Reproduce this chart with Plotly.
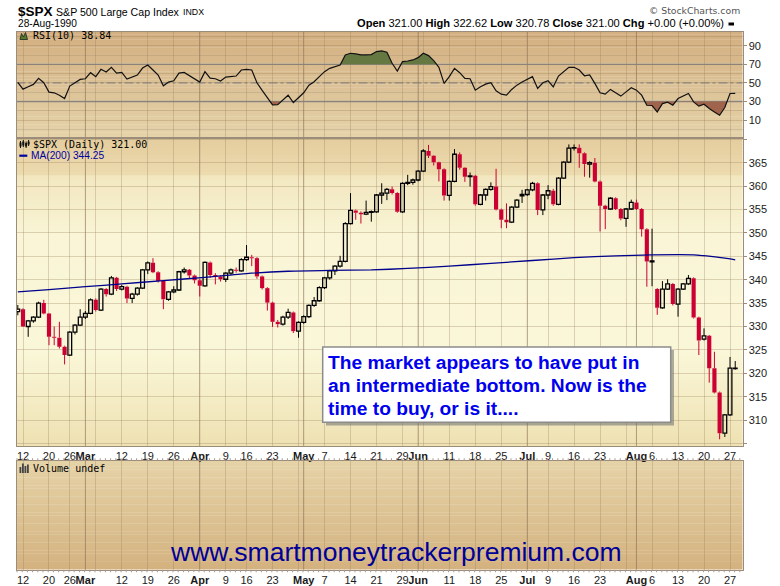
import plotly.graph_objects as go

# ---------------- data ----------------
dates = [
    "Feb 9", "Feb 12", "Feb 13", "Feb 14", "Feb 15", "Feb 16", "Feb 20", "Feb 21", "Feb 22", "Feb 23",
    "Feb 26", "Feb 27", "Feb 28", "Mar 1", "Mar 2", "Mar 5", "Mar 6", "Mar 7", "Mar 8", "Mar 9",
    "Mar 12", "Mar 13", "Mar 14", "Mar 15", "Mar 16", "Mar 19", "Mar 20", "Mar 21", "Mar 22", "Mar 23",
    "Mar 26", "Mar 27", "Mar 28", "Mar 29", "Mar 30", "Apr 2", "Apr 3", "Apr 4", "Apr 5", "Apr 6",
    "Apr 9", "Apr 10", "Apr 11", "Apr 12", "Apr 16", "Apr 17", "Apr 18", "Apr 19", "Apr 20",
    "Apr 23", "Apr 24", "Apr 25", "Apr 26", "Apr 27", "Apr 30", "May 1", "May 2", "May 3", "May 4",
    "May 7", "May 8", "May 9", "May 10", "May 11", "May 14", "May 15", "May 16", "May 17", "May 18",
    "May 21", "May 22", "May 23", "May 24", "May 25", "May 29", "May 30", "May 31", "Jun 1",
    "Jun 4", "Jun 5", "Jun 6", "Jun 7", "Jun 8", "Jun 11", "Jun 12", "Jun 13", "Jun 14", "Jun 15",
    "Jun 18", "Jun 19", "Jun 20", "Jun 21", "Jun 22", "Jun 25", "Jun 26", "Jun 27", "Jun 28", "Jun 29",
    "Jul 2", "Jul 3", "Jul 5", "Jul 6", "Jul 9", "Jul 10", "Jul 11", "Jul 12", "Jul 13",
    "Jul 16", "Jul 17", "Jul 18", "Jul 19", "Jul 20", "Jul 23", "Jul 24", "Jul 25", "Jul 26", "Jul 27",
    "Jul 30", "Jul 31", "Aug 1", "Aug 2", "Aug 3", "Aug 6", "Aug 7", "Aug 8", "Aug 9", "Aug 10",
    "Aug 13", "Aug 14", "Aug 15", "Aug 16", "Aug 17", "Aug 20", "Aug 21", "Aug 22", "Aug 23", "Aug 24",
    "Aug 27", "Aug 28",
]

opens = [
    333.2, 333.7, 330.0, 331.2, 332.0, 335.0, 332.8, 327.8, 327.6, 325.7,
    323.9, 328.8, 330.3, 332.0, 332.8, 335.7, 333.5, 338.0, 336.9, 340.4,
    338.0, 338.5, 336.0, 336.9, 338.2, 342.1, 343.6, 341.6, 339.7, 335.8,
    337.4, 337.8, 341.7, 342.1, 340.9, 339.9, 338.7, 343.7, 341.0, 340.7,
    340.1, 341.4, 342.1, 341.9, 344.3, 344.8, 344.6, 340.7, 338.2,
    335.1, 331.0, 330.5, 332.0, 333.0, 329.0, 330.9, 332.1, 334.5, 335.5,
    338.3, 340.4, 341.9, 342.9, 343.9, 352.0, 354.8, 354.3, 354.0, 354.4,
    354.5, 358.1, 358.5, 359.3, 358.5, 354.5, 360.6, 360.8, 361.3,
    363.2, 367.5, 366.5, 365.1, 363.6, 358.0, 361.0, 366.8, 363.9, 362.0,
    362.2, 356.1, 358.1, 359.3, 359.9, 355.0, 352.8, 352.3, 355.5, 357.9,
    358.2, 359.2, 360.6, 354.9, 358.1, 359.0, 356.1, 361.7, 365.1,
    368.1, 368.2, 367.0, 364.7, 365.0, 361.0, 355.8, 355.1, 357.4, 355.1,
    353.1, 355.1, 356.5, 355.1, 350.8, 343.8, 338.0, 334.0, 338.0, 339.1,
    334.8, 338.0, 339.1, 340.3, 331.9, 327.3, 328.0, 321.1, 315.9, 307.2,
    311.1, 321.0,
]
highs = [
    334.6, 333.9, 331.4, 332.2, 335.3, 335.7, 332.9, 330.0, 331.0, 325.9,
    329.0, 330.5, 333.7, 333.3, 336.0, 336.0, 338.2, 338.2, 340.8, 340.6,
    338.9, 338.7, 337.2, 338.4, 342.3, 343.9, 344.6, 341.8, 339.9, 337.6,
    338.6, 341.9, 342.6, 342.3, 341.1, 340.1, 343.9, 343.9, 341.4, 340.9,
    341.6, 342.4, 342.6, 344.6, 347.4, 345.3, 344.8, 340.9, 338.4,
    335.3, 331.4, 332.3, 333.8, 333.2, 331.1, 332.4, 334.7, 336.3, 338.6,
    340.6, 342.1, 343.1, 345.1, 352.3, 358.5, 355.0, 354.6, 356.9, 354.8,
    358.3, 360.6, 359.6, 359.9, 358.7, 360.8, 362.4, 361.6, 363.4,
    367.9, 368.8, 366.6, 365.2, 363.8, 361.2, 367.9, 367.2, 364.0, 362.9,
    362.4, 358.3, 359.5, 360.8, 363.7, 355.2, 356.3, 355.7, 357.2, 359.2,
    359.4, 360.9, 360.8, 358.3, 360.2, 359.4, 361.9, 365.3, 368.9,
    368.9, 368.9, 367.2, 365.3, 366.0, 361.2, 356.0, 357.6, 357.6, 355.3,
    355.3, 357.1, 357.1, 355.3, 351.0, 350.9, 338.2, 339.7, 340.1, 339.3,
    338.2, 339.3, 341.0, 340.5, 332.1, 329.6, 328.2, 324.6, 316.1, 311.3,
    323.5, 322.62,
]
lows = [
    332.4, 329.9, 327.8, 330.8, 331.8, 332.6, 326.0, 326.0, 325.3, 321.9,
    323.7, 328.3, 330.1, 331.6, 332.6, 333.2, 333.3, 336.4, 336.7, 337.6,
    337.7, 335.0, 335.0, 336.6, 338.0, 341.2, 341.4, 339.4, 333.7, 335.5,
    337.1, 337.6, 341.3, 340.2, 339.2, 336.4, 338.5, 340.4, 339.0, 339.6,
    339.5, 341.0, 341.5, 341.7, 344.0, 342.9, 340.2, 337.9, 333.4,
    329.9, 329.8, 330.2, 331.6, 328.6, 327.6, 330.6, 331.8, 334.2, 335.3,
    338.0, 340.0, 341.0, 342.6, 343.7, 351.8, 352.8, 352.0, 353.8, 352.4,
    354.3, 356.2, 357.0, 358.2, 354.3, 354.3, 360.2, 360.3, 361.0,
    363.0, 366.0, 364.4, 361.0, 356.9, 356.9, 360.8, 363.5, 360.9, 359.9,
    355.8, 355.9, 356.9, 359.0, 354.8, 351.0, 351.0, 352.1, 355.3, 356.4,
    357.9, 358.9, 353.8, 353.8, 357.2, 355.8, 355.9, 361.5, 364.9,
    367.6, 363.9, 362.0, 361.8, 360.8, 350.3, 350.8, 354.9, 354.9, 352.7,
    351.3, 354.9, 354.9, 349.2, 338.5, 338.6, 332.5, 333.8, 337.8, 334.5,
    332.1, 337.8, 338.9, 331.7, 323.9, 327.0, 318.0, 315.7, 305.9, 306.4,
    310.9, 320.78,
]
closes = [
    333.7, 330.0, 331.2, 332.0, 335.0, 332.8, 327.8, 327.6, 325.7, 323.9,
    328.8, 330.3, 332.0, 332.8, 335.7, 333.5, 338.0, 336.9, 340.4, 338.0,
    338.5, 336.0, 336.9, 338.2, 342.1, 343.6, 341.6, 339.7, 335.8, 337.4,
    337.8, 341.7, 342.1, 340.9, 339.9, 338.7, 343.7, 341.0, 340.7, 340.1,
    341.4, 342.1, 341.9, 344.3, 344.8, 344.6, 340.7, 338.2, 335.1,
    331.0, 330.5, 332.0, 333.0, 329.0, 330.9, 332.1, 334.5, 335.5, 338.3,
    340.4, 341.9, 342.9, 343.9, 352.0, 354.8, 354.3, 354.0, 354.4, 354.5,
    358.1, 358.5, 359.3, 358.5, 354.5, 360.6, 360.8, 361.3, 363.2,
    367.5, 366.5, 365.1, 363.6, 358.0, 361.0, 366.8, 363.9, 362.0, 362.2,
    356.1, 358.1, 359.3, 359.9, 355.0, 352.8, 352.3, 355.5, 357.0, 358.2,
    359.2, 360.6, 354.9, 358.1, 359.0, 356.1, 361.7, 365.1, 368.1,
    368.2, 367.0, 364.7, 365.0, 361.0, 355.8, 355.1, 357.4, 355.1, 353.1,
    355.1, 356.5, 355.1, 350.8, 343.9, 344.0, 334.0, 338.0, 339.1, 334.8,
    338.0, 339.1, 340.3, 331.9, 327.0, 328.0, 321.1, 315.9, 307.2, 311.1,
    321.1, 321.0,
]

rsi = [
    50.5, 43.3, 45.8, 48.4, 54.9, 50.2, 40.1, 39.4, 36.8, 33.2,
    46.6, 50.2, 53.8, 54.5, 61.0, 56.7, 64.6, 61.7, 66.8, 60.6,
    61.3, 54.1, 56.7, 58.5, 66.0, 69.3, 63.9, 58.5, 46.9, 50.9,
    52.3, 60.6, 61.3, 57.7, 54.9, 50.9, 62.1, 55.2, 54.5, 52.0,
    56.3, 57.0, 57.4, 63.9, 64.6, 63.9, 50.2, 42.0, 34.5, 26.5,
    26.7, 32.2, 36.8, 28.9, 34.3, 39.4, 47.6, 51.3, 56.7, 62.1,
    65.7, 67.8, 69.3, 80.1, 81.9, 81.2, 80.1, 80.1, 80.5, 83.7,
    84.4, 83.0, 71.1, 62.8, 72.9, 73.6, 74.7, 77.2, 81.9, 79.4,
    74.0, 66.8, 49.5, 56.7, 65.7, 61.0, 54.9, 54.5, 42.2, 45.8,
    48.7, 50.2, 41.5, 37.9, 36.8, 43.0, 47.6, 50.9, 53.8, 56.7,
    44.0, 50.2, 52.3, 45.8, 57.4, 62.1, 66.8, 66.8, 63.9, 57.7,
    58.5, 49.5, 39.4, 37.9, 43.0, 39.4, 35.8, 40.4, 44.8, 42.2,
    36.8, 26.0, 25.7, 18.8, 27.8, 29.3, 26.0, 33.2, 35.8, 38.6,
    29.6, 25.0, 27.1, 22.4, 18.8, 15.2, 23.5, 38.6, 38.84,
]

ma_dates = ["Feb 9", "Feb 20", "Mar 1", "Mar 12", "Mar 22", "Apr 3", "Apr 16", "Apr 26",
            "May 8", "May 18", "May 30", "Jun 11", "Jun 21", "Jul 3", "Jul 16", "Jul 26",
            "Aug 6", "Aug 16", "Aug 24", "Aug 28"]
ma_vals = [337.4, 337.9, 338.5, 339.1, 339.8, 340.5, 341.3, 341.8,
           342.0, 342.1, 342.4, 342.9, 343.5, 344.1, 344.7, 345.1,
           345.3, 345.3, 344.6, 344.25]

tick_dates = ["Feb 12", "Feb 20", "Feb 26", "Mar 1", "Mar 12", "Mar 19", "Mar 26", "Apr 2",
              "Apr 9", "Apr 16", "Apr 23", "May 1", "May 7", "May 14", "May 21", "May 29",
              "Jun 1", "Jun 11", "Jun 18", "Jun 25", "Jul 2", "Jul 9", "Jul 16", "Jul 23",
              "Aug 1", "Aug 6", "Aug 13", "Aug 20", "Aug 27"]
tick_labels = ["12", "20", "26", "<b>Mar</b>", "12", "19", "26", "<b>Apr</b>",
               "9", "16", "23", "<b>May</b>", "7", "14", "21", "29",
               "<b>Jun</b>", "11", "18", "25", "<b>Jul</b>", "9", "16", "23",
               "<b>Aug</b>", "6", "13", "20", "27"]
extra_grid_dates = ["Mar 5", "Apr 30", "Jun 4", "Jul 30"]
month_dates = ["Mar 1", "Apr 2", "May 1", "Jun 1", "Jul 2", "Aug 1"]

price_ticks = [305, 310, 315, 320, 325, 330, 335, 340, 345, 350, 355, 360, 365, 370]
price_labels = ["", "310", "315", "320", "325", "330", "335", "340", "345", "350",
                "355", "360", "365", ""]
rsi_ticks = [10, 30, 50, 70, 90]
rsi_minor = [0, 20, 40, 60, 80, 100]

# ---------------- geometry ----------------
W, H = 780, 586
X0, X1 = 16.5, 742.5
RSI_TOP, RSI_BOT = 31.5, 137.5
MAIN_TOP, MAIN_BOT = 137.5, 446.0
VOL_TOP, VOL_BOT = 461.0, 569.5
XR = [-0.25, 139.4]


def px(x):
    return x / W


def py(y):
    return 1 - y / H


xi = list(range(len(dates)))
pos = {d: k for k, d in enumerate(dates)}

RED = "#cc0033"
GRID = "rgba(150,122,88,0.30)"
MONTH = "rgba(125,100,75,0.45)"
BORDER = "#9c8c7c"
FONT = "Liberation Sans, Arial, sans-serif"
MONO = "DejaVu Sans Mono, monospace"

fig = go.Figure()


# ---------------- RSI panel ----------------
def clipped(vals, thr, above):
    xs, ys = [], []
    for k, v in enumerate(vals):
        if k > 0:
            p = vals[k - 1]
            if (p - thr) * (v - thr) < 0:
                t = (thr - p) / (v - p)
                xs.append(k - 1 + t)
                ys.append(thr)
        xs.append(k)
        ys.append(max(v, thr) if above else min(v, thr))
    return xs, ys


for thr, above, col in [(70, True, "#657842"), (30, False, "#a0644c")]:
    cx, cy = clipped(rsi, thr, above)
    fig.add_trace(go.Scatter(x=cx, y=[thr] * len(cx), mode="lines", line=dict(width=0),
                             hoverinfo="skip", showlegend=False, xaxis="x", yaxis="y"))
    fig.add_trace(go.Scatter(x=cx, y=cy, mode="lines", line=dict(width=0), fill="tonexty",
                             fillcolor=col, hoverinfo="skip", showlegend=False,
                             xaxis="x", yaxis="y"))

fig.add_trace(go.Scatter(x=xi, y=rsi, mode="lines", line=dict(color="#111111", width=1.2),
                         showlegend=False, xaxis="x", yaxis="y"))

# ---------------- price candles ----------------
up_x, up_b, up_h = [], [], []
dn_x, dn_b, dn_h = [], [], []
wk_up_x, wk_up_y, wk_dn_x, wk_dn_y = [], [], [], []
for k in xi:
    o, h, l, c = opens[k], highs[k], lows[k], closes[k]
    lo_b, hi_b = min(o, c), max(o, c)
    hgt = max(hi_b - lo_b, 0.12)
    if c >= o:
        up_x.append(k); up_b.append(lo_b); up_h.append(hgt)
        wx, wy = wk_up_x, wk_up_y
    else:
        dn_x.append(k); dn_b.append(lo_b); dn_h.append(hgt)
        wx, wy = wk_dn_x, wk_dn_y
    wx += [k, k, None, k, k, None]
    wy += [lo_b, l, None, hi_b, h, None]

fig.add_trace(go.Scatter(x=wk_dn_x, y=wk_dn_y, mode="lines", line=dict(color=RED, width=1),
                         showlegend=False, xaxis="x2", yaxis="y2"))
fig.add_trace(go.Scatter(x=wk_up_x, y=wk_up_y, mode="lines", line=dict(color="black", width=1),
                         showlegend=False, xaxis="x2", yaxis="y2"))
fig.add_trace(go.Bar(x=dn_x, y=dn_h, base=dn_b, width=0.8,
                     marker=dict(color=RED, line=dict(width=0)),
                     showlegend=False, xaxis="x2", yaxis="y2"))
fig.add_trace(go.Bar(x=up_x, y=up_h, base=up_b, width=0.72,
                     marker=dict(color="rgba(0,0,0,0)", line=dict(color="black", width=1.3)),
                     showlegend=False, xaxis="x2", yaxis="y2"))

fig.add_trace(go.Scatter(x=[pos[d] for d in ma_dates], y=ma_vals, mode="lines",
                         line=dict(color="#00008c", width=1.3, shape="spline", smoothing=0.6),
                         showlegend=False, xaxis="x2", yaxis="y2"))

# empty volume panel trace (keeps axis alive)
fig.add_trace(go.Scatter(x=[xi[0]], y=[None], mode="markers", showlegend=False,
                         xaxis="x3", yaxis="y3"))

# ---------------- background bands ----------------
shapes = []


def lerp_col(stops, t):
    for (t0, c0), (t1, c1) in zip(stops[:-1], stops[1:]):
        if t0 <= t <= t1:
            f = 0 if t1 == t0 else (t - t0) / (t1 - t0)
            return "rgb(%d,%d,%d)" % tuple(round(a + (b - a) * f) for a, b in zip(c0, c1))
    return "rgb(%d,%d,%d)" % stops[-1][1]


def bands(ax, stops, n):
    for k in range(n):
        t0, t1 = k / n, (k + 1) / n
        shapes.append(dict(type="rect", xref=ax[0] + " domain", yref=ax[1] + " domain",
                           x0=0, x1=1, y0=max(0, 1 - t1 - 0.003), y1=1 - t0,
                           fillcolor=lerp_col(stops, (t0 + t1) / 2), line=dict(width=0),
                           layer="below"))


bands(("x", "y"), [(0.0, (211, 175, 128)), (1.0, (229, 211, 170))], 40)
bands(("x2", "y2"), [(0.0, (228, 204, 157)), (0.12, (236, 219, 174)), (0.125, (242, 231, 191)),
                     (0.32, (249, 245, 214)), (0.7, (250, 247, 216)), (1.0, (238, 225, 178))], 90)
bands(("x3", "y3"), [(0.0, (229, 211, 167)), (1.0, (212, 178, 128))], 40)

for ax in (("x", "y"), ("x2", "y2"), ("x3", "y3")):
    for d in month_dates:
        shapes.append(dict(type="line", xref=ax[0], yref=ax[1] + " domain",
                           x0=pos[d], x1=pos[d], y0=0, y1=1,
                           line=dict(color=MONTH, width=1), layer="below"))

# RSI reference lines
for lvl, dash in [(70, "solid"), (30, "solid"), (50, "dashdot")]:
    shapes.append(dict(type="line", xref="x domain", yref="y", x0=0, x1=1, y0=lvl, y1=lvl,
                       line=dict(color="#878787", width=1.3, dash=dash), layer="below"))

# daily tick rows above and below the volume panel
for yy in (VOL_TOP - 1.5, VOL_BOT + 1.5):
    shapes.append(dict(type="line", xref="paper", yref="paper",
                       x0=px(X0), x1=px(X1), y0=py(yy), y1=py(yy),
                       line=dict(color="#a89a8a", width=2.5, dash="1px,4.2px")))

# annotation box + shadow
shapes.append(dict(type="rect", xref="paper", yref="paper",
                   x0=px(326), x1=px(674), y0=py(425.5), y1=py(350),
                   fillcolor="rgba(110,110,110,0.55)", line=dict(width=0)))
shapes.append(dict(type="rect", xref="paper", yref="paper",
                   x0=px(322.7), x1=px(670.7), y0=py(422.3), y1=py(347),
                   fillcolor="white", line=dict(color="#8c8c8c", width=1.5)))
# header dash and MA legend stroke
shapes.append(dict(type="rect", xref="paper", yref="paper",
                   x0=px(728.5), x1=px(734), y0=py(25.5), y1=py(22.5),
                   fillcolor="black", line=dict(width=0)))
shapes.append(dict(type="line", xref="paper", yref="paper",
                   x0=px(19.3), x1=px(27.3), y0=py(155.7), y1=py(155.7),
                   line=dict(color="#0000a0", width=2.2)))


# small panel icons
def ppath(points, close=True):
    s = "M " + " L ".join("%.5f,%.5f" % (px(a), py(b)) for a, b in points)
    return s + (" Z" if close else "")


shapes.append(dict(type="path", xref="paper", yref="paper",
                   path=ppath([(20, 39.5), (21.5, 33.5), (23.5, 37), (25.5, 32.5), (27.5, 39.5)]),
                   fillcolor="#4f7d2c", line=dict(color="#222222", width=0.8)))
for cx0, top, bot in [(20.5, 141, 148), (23.3, 140, 147), (26.1, 141.5, 148), (28.6, 140, 146)]:
    shapes.append(dict(type="line", xref="paper", yref="paper",
                       x0=px(cx0), x1=px(cx0), y0=py(bot), y1=py(top),
                       line=dict(color="#111111", width=1)))
    shapes.append(dict(type="rect", xref="paper", yref="paper",
                       x0=px(cx0 - 1), x1=px(cx0 + 1), y0=py(bot - 1.5), y1=py(top + 1.5),
                       fillcolor="#111111", line=dict(width=0)))
for bx, top in [(19.5, 467), (22, 463.5), (24.5, 466), (27, 464.5)]:
    shapes.append(dict(type="rect", xref="paper", yref="paper",
                       x0=px(bx), x1=px(bx + 1.8), y0=py(473), y1=py(top),
                       fillcolor="#444444", line=dict(width=0)))

# ---------------- annotations ----------------
ann = []


def txt(text, x, y, size, color="black", family=FONT, xanchor="left"):
    ann.append(dict(text=text, x=px(x), y=py(y), xref="paper", yref="paper",
                    xanchor=xanchor, yanchor="middle", showarrow=False,
                    font=dict(size=size, color=color, family=family)))


txt("<b>$SPX</b>", 15.5, 11.5, 13.5)
txt("S&P 500 Large Cap Index", 53.5, 12, 10.6)
txt("INDX", 181, 12, 8.8)
txt("28-Aug-1990", 15.5, 23.5, 10.2)
txt("© StockCharts.com", 742, 10.5, 9.3, color="#555555", family="DejaVu Sans, Verdana, sans-serif",
    xanchor="right")
txt("<b>Open</b> 321.00 <b>High</b> 322.62 <b>Low</b> 320.78 <b>Close</b> 321.00 "
    "<b>Chg</b> +0.00 (+0.00%)", 726, 23.5, 11.1, xanchor="right")
txt("RSI(10) 38.84", 30.5, 35.7, 10, family=MONO)
txt("$SPX (Daily) 321.00", 30.5, 144, 10, family=MONO)
txt("MA(200) 344.25", 28.5, 156, 10.2, color="#0000a0")
txt("Volume undef", 30.5, 468.5, 10, family=MONO)

box_lines = ["The market appears to have put in",
             "an intermediate bottom. Now is the",
             "time to buy, or is it...."]
for k, line in enumerate(box_lines):
    txt("<b>" + line + "</b>", 325.5, 362 + k * 23, 19.2, color="#0000ee")

ann.append(dict(text="www.smartmoneytrackerpremium.com", x=px(396), y=py(552),
                xref="paper", yref="paper", xanchor="center", yanchor="middle",
                showarrow=False, font=dict(size=26.5, color="#000099", family=FONT)))

# ---------------- layout ----------------
grid_pos = sorted([pos[d] for d in tick_dates] + [pos[d] for d in extra_grid_dates])
lab_map = {pos[d]: t for d, t in zip(tick_dates, tick_labels)}
grid_txt = [lab_map.get(p, "") for p in grid_pos]

xcommon = dict(domain=[px(X0), px(X1)], range=XR, tickvals=grid_pos, ticktext=grid_txt,
               tickangle=0, automargin=False, showgrid=True, gridcolor=GRID, gridwidth=1,
               zeroline=False, showline=True, mirror=True, linecolor=BORDER, linewidth=1,
               tickfont=dict(size=11, color="#1a1a1a", family=FONT), fixedrange=True)

fig.update_layout(
    width=W, height=H, margin=dict(l=0, r=0, t=0, b=0, autoexpand=False),
    paper_bgcolor="white", plot_bgcolor="rgba(0,0,0,0)",
    font=dict(family=FONT, size=11, color="#1a1a1a"),
    barmode="overlay", showlegend=False,
    xaxis=dict(xcommon, anchor="y", showticklabels=False, ticks=""),
    yaxis=dict(domain=[py(RSI_BOT), py(RSI_TOP)], range=[-8.7, 105.3], anchor="x", side="right",
               automargin=False,
               tickvals=rsi_ticks, showgrid=True, gridcolor=GRID, zeroline=False,
               minor=dict(tickvals=rsi_minor, showgrid=True, gridcolor=GRID, ticks=""),
               ticks="outside", ticklen=3, tickcolor=BORDER,
               showline=True, mirror=True, linecolor=BORDER,
               tickfont=dict(size=11, color="#1a1a1a")),
    xaxis2=dict(xcommon, anchor="y2", showticklabels=True, ticks=""),
    yaxis2=dict(domain=[py(MAIN_BOT), py(MAIN_TOP)], range=[304.47, 370.38], anchor="x2",
                side="right", tickvals=price_ticks, ticktext=price_labels, automargin=False,
                showgrid=True, gridcolor=GRID, zeroline=False,
                ticks="outside", ticklen=3, tickcolor=BORDER,
                showline=True, mirror=True, linecolor=BORDER,
                tickfont=dict(size=11, color="#1a1a1a")),
    xaxis3=dict(xcommon, anchor="y3", showticklabels=True, ticks=""),
    yaxis3=dict(domain=[py(VOL_BOT), py(VOL_TOP)], range=[0, 1], anchor="x3", side="right",
                automargin=False,
                showticklabels=False, showgrid=False, zeroline=False, ticks="",
                showline=True, mirror=True, linecolor=BORDER),
    shapes=shapes,
    annotations=ann,
)

fig.write_html("out.html", config={"displayModeBar": False, "staticPlot": True},
               post_script="document.body.style.margin='0';document.body.style.overflow='hidden';")
